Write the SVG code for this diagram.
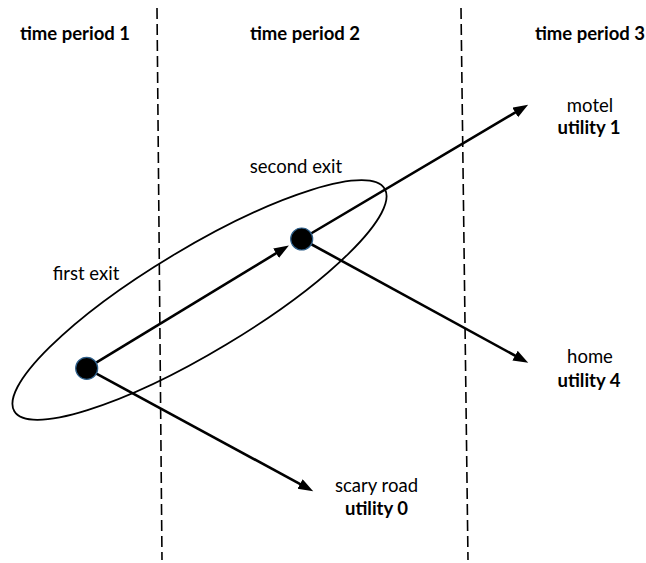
<svg xmlns="http://www.w3.org/2000/svg" width="646" height="563" viewBox="0 0 646 563">
<style>
text{font-family:Lato,"Open Sans","Liberation Sans",sans-serif;font-size:18.5px;fill:#000;text-anchor:middle}
.b{font-weight:bold}
.div{stroke:#000;stroke-width:1.6;stroke-dasharray:11 5;fill:none}
.arr{stroke:#000;stroke-width:2.6;fill:none;marker-end:url(#ah)}
.node{fill:#000;stroke:#2e5f8a;stroke-width:1.2}
</style>
<defs>
<marker id="ah" markerUnits="userSpaceOnUse" markerWidth="16" markerHeight="12" refX="6" refY="5.5" orient="auto">
<path d="M0,0 L15,5.5 L0,11 z" fill="#000"/>
</marker>
</defs>
<rect width="646" height="563" fill="#fff"/>
<g id="dividers">
<line class="div" x1="157" y1="8" x2="162" y2="560"/>
<line class="div" x1="461" y1="8" x2="468" y2="560"/>
</g>
<g id="headers">
<text class="b" x="75" y="40">time period 1</text>
<text class="b" x="305" y="40">time period 2</text>
<text class="b" x="590" y="40">time period 3</text>
</g>
<g id="exit-set">
<ellipse cx="199.5" cy="300" rx="216" ry="52" transform="rotate(-31 199.5 300)" fill="none" stroke="#000" stroke-width="1.8"/>
<text x="296" y="173">second exit</text>
<text x="86" y="280">first exit</text>
</g>
<g id="connectors">
<line class="arr" x1="86.7" y1="368.3" x2="281.2" y2="250.2"/>
<line class="arr" x1="301.7" y1="239" x2="520.4" y2="109.4"/>
<line class="arr" x1="301.7" y1="239" x2="520.3" y2="358.5"/>
<line class="arr" x1="86.7" y1="368.3" x2="305.3" y2="486.9"/>
</g>
<g id="first-exit">
<circle class="node" cx="86.7" cy="368.3" r="11"/>
</g>
<g id="second-exit">
<circle class="node" cx="301.7" cy="239" r="11"/>
</g>
<g id="motel">
<text x="590" y="112">motel</text>
<text class="b" x="589" y="134">utility 1</text>
</g>
<g id="home">
<text x="590" y="363">home</text>
<text class="b" x="589" y="387">utility 4</text>
</g>
<g id="scary-road">
<text x="376.5" y="492">scary road</text>
<text class="b" x="376.5" y="515">utility 0</text>
</g>
</svg>
